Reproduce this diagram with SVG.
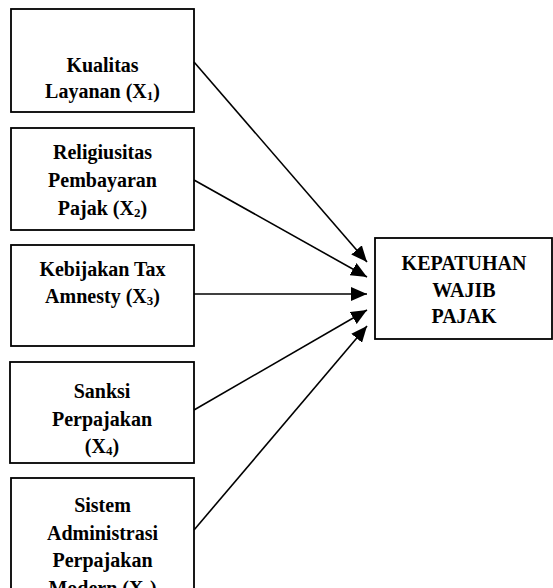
<svg xmlns="http://www.w3.org/2000/svg" width="553" height="588" viewBox="0 0 553 588">
<style>
.box{fill:#fff;stroke:#000;stroke-width:1.8}
.t{font-family:"Liberation Serif","Times New Roman",serif;font-weight:bold;font-size:20px;text-anchor:middle;fill:#000}
.s{font-size:13px}
.c{stroke:#000;stroke-width:1.6;fill:none}
</style>
<defs>
<marker id="ah" markerUnits="userSpaceOnUse" markerWidth="18" markerHeight="14" refX="16" refY="7" orient="auto">
<path d="M0,0 L16,7 L0,14 Z" fill="#000"/>
</marker>
</defs>
<rect width="553" height="588" fill="#fff"/>
<g id="x1">
<rect class="box" x="11" y="9" width="183" height="103"/>
<text class="t" x="102.5" y="72">Kualitas</text>
<text class="t" x="102.5" y="98">Layanan (X<tspan class="s" dy="2">1</tspan><tspan dy="-2">)</tspan></text>
</g>
<g id="x2">
<rect class="box" x="11" y="128" width="183" height="102"/>
<text class="t" x="102.5" y="159">Religiusitas</text>
<text class="t" x="102.5" y="187">Pembayaran</text>
<text class="t" x="102.5" y="215">Pajak (X<tspan class="s" dy="2">2</tspan><tspan dy="-2">)</tspan></text>
</g>
<g id="x3">
<rect class="box" x="11" y="245" width="183" height="101"/>
<text class="t" x="102.5" y="276">Kebijakan Tax</text>
<text class="t" x="102.5" y="303">Amnesty (X<tspan class="s" dy="2">3</tspan><tspan dy="-2">)</tspan></text>
</g>
<g id="x4">
<rect class="box" x="10" y="362" width="184" height="101"/>
<text class="t" x="102" y="398">Sanksi</text>
<text class="t" x="102" y="426">Perpajakan</text>
<text class="t" x="102" y="453">(X<tspan class="s" dy="2">4</tspan><tspan dy="-2">)</tspan></text>
</g>
<g id="x5">
<rect class="box" x="11" y="478" width="183" height="130"/>
<text class="t" x="102.5" y="512">Sistem</text>
<text class="t" x="102.5" y="540">Administrasi</text>
<text class="t" x="102.5" y="567">Perpajakan</text>
<text class="t" x="102.5" y="595">Modern (X<tspan class="s" dy="2">5</tspan><tspan dy="-2">)</tspan></text>
</g>
<g id="y">
<rect class="box" x="375" y="238" width="177" height="101"/>
<text class="t" x="464" y="270">KEPATUHAN</text>
<text class="t" x="464" y="297">WAJIB</text>
<text class="t" x="464" y="323">PAJAK</text>
</g>
<g id="connectors">
<line class="c" x1="194" y1="62" x2="367" y2="262" marker-end="url(#ah)"/>
<line class="c" x1="194" y1="180" x2="367" y2="277" marker-end="url(#ah)"/>
<line class="c" x1="194" y1="294" x2="367" y2="294" marker-end="url(#ah)"/>
<line class="c" x1="194" y1="410" x2="367" y2="310" marker-end="url(#ah)"/>
<line class="c" x1="194" y1="530" x2="367" y2="326" marker-end="url(#ah)"/>
</g>
</svg>
